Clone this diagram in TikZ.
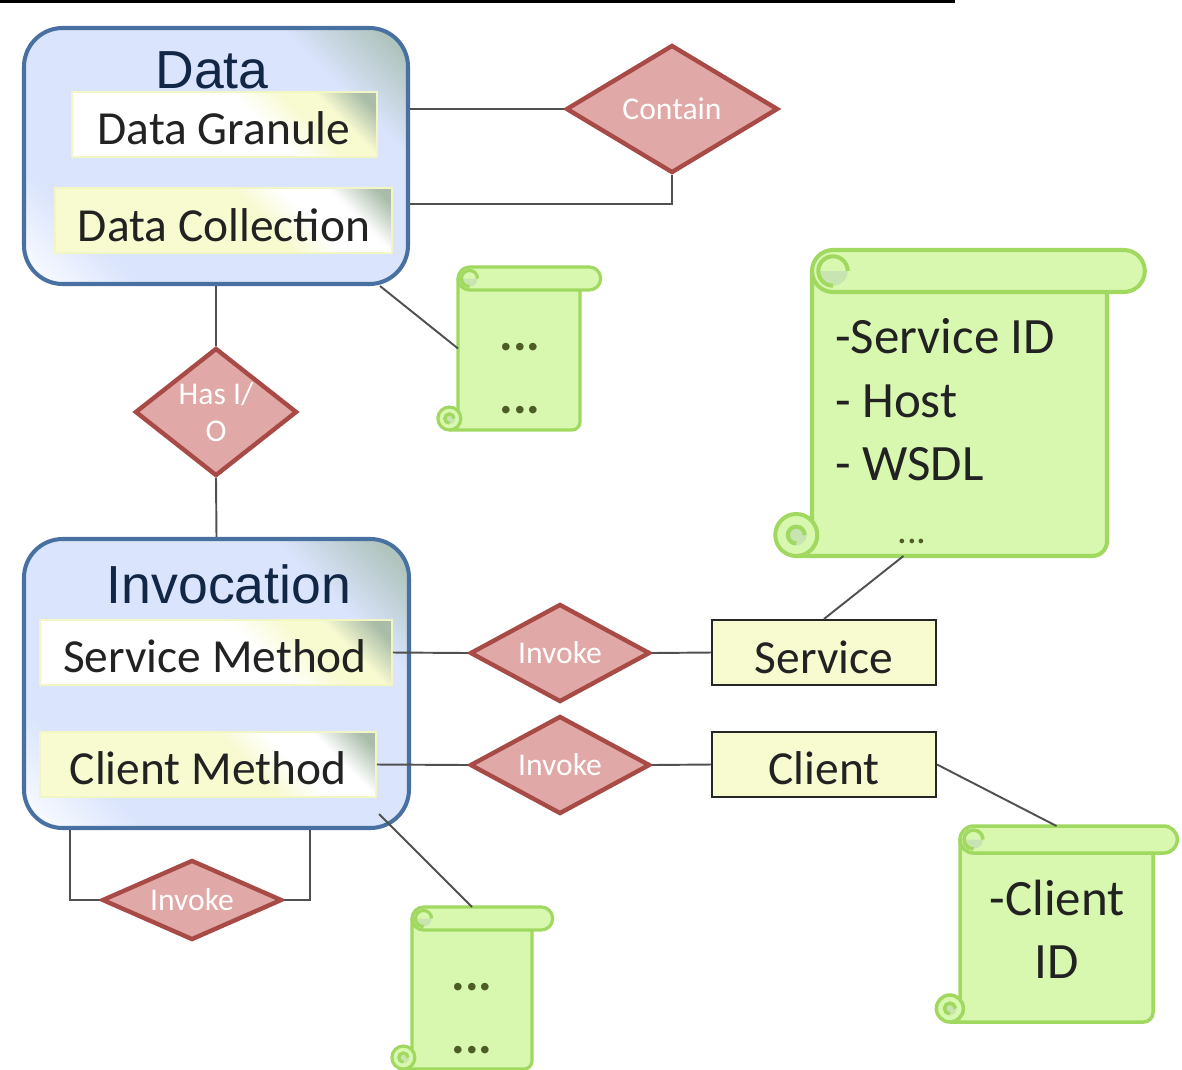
\documentclass[tikz,border=0pt]{standalone}
\usepackage{fontspec}
\setmainfont{Carlito}
\newfontfamily\titlefont{Liberation Sans}
\usetikzlibrary{shapes.geometric,fit,calc}

\definecolor{boxblue}{RGB}{218,228,252}
\definecolor{boxedge}{RGB}{72,112,160}
\definecolor{boxgrey}{RGB}{176,196,190}
\definecolor{titleblue}{RGB}{18,38,70}
\definecolor{paleyellow}{RGB}{248,250,208}
\definecolor{yellowedge}{RGB}{242,246,196}
\definecolor{cornergrey}{RGB}{168,188,168}
\definecolor{relfill}{RGB}{224,168,166}
\definecolor{reledge}{RGB}{168,74,70}
\definecolor{notefill}{RGB}{216,248,176}
\definecolor{noteedge}{RGB}{160,216,96}
\definecolor{curlfill}{RGB}{200,228,176}
\definecolor{linegrey}{RGB}{80,80,80}
\definecolor{dotgreen}{RGB}{78,92,38}
\definecolor{textdark}{RGB}{34,34,34}

% fills running from the bottom left corner (25bp) to the top right corner (75bp)
\pgfdeclarehorizontalshading{groupshade}{100bp}{color(0bp)=(white); color(25bp)=(white); color(34bp)=(boxblue); color(65bp)=(boxblue); color(72.5bp)=(boxgrey); color(100bp)=(boxgrey)}
\pgfdeclarehorizontalshading{whiteyellow}{100bp}{color(0bp)=(white); color(55bp)=(white); color(62bp)=(paleyellow); color(66.5bp)=(paleyellow); color(72.5bp)=(cornergrey); color(100bp)=(cornergrey)}
\pgfdeclarehorizontalshading{yellowwhite}{100bp}{color(0bp)=(paleyellow); color(55bp)=(paleyellow); color(61bp)=(white); color(67bp)=(white); color(73bp)=(cornergrey); color(100bp)=(cornergrey)}

% diagonal shading of the box (#3,#4)--(#5,#6); #1 = clip options, #2 = shading
\newcommand{\diagshade}[6]{%
  \pgfmathsetmacro{\halfside}{(#5-#3+#6-#4)/(2*sqrt(2))}%
  \pgfmathsetmacro{\midx}{(#3+#5)/2}%
  \pgfmathsetmacro{\midy}{(#4+#6)/2}%
  \begin{scope}
    \clip[#1] (#3,#4) rectangle (#5,#6);
    \begin{scope}[transform canvas={rotate around={45:(\midx,\midy)}}]
      \shade[shading=#2] (\midx-\halfside,\midy-\halfside) rectangle (\midx+\halfside,\midy+\halfside);
    \end{scope}
  \end{scope}%
}

\begin{document}
\begin{tikzpicture}[x=0.02cm, y=-0.02cm,
    group/.style={draw=boxedge, line width=2.3pt, rounded corners=22pt, inner sep=0pt},
    grouptitle/.style={anchor=base, text=titleblue, font=\titlefont\fontsize{30.5}{36}\selectfont},
    attr/.style={draw=yellowedge, line width=1.1pt, inner sep=0pt},
    entity/.style={draw=black!85, line width=1.2pt, fill=paleyellow, inner sep=0pt},
    label/.style={anchor=base, text=textdark, font=\fontsize{27}{32}\selectfont},
    relation/.style={diamond, aspect=2, draw=reledge, line width=2.5pt, fill=relfill, inner sep=0pt,
        text=white, font=\fontsize{18}{21}\selectfont},
    link/.style={draw=linegrey, line width=1.1pt},
    note/.style={fill=notefill, draw=noteedge, line join=round},
    notetext/.style={text=textdark, font=\fontsize{29}{36}\selectfont},
    dots/.style={text=dotgreen, font=\bfseries\fontsize{29}{32}\selectfont},
    pics/scroll/.style args={#1/#2/#3}{code={
        % sheet
        \filldraw[note] (0,#3) -- (#1,#3) -- (#1,#2-0.7*#3) arc (0:90:0.7*#3)
            -- (-0.75*#3,#2) -- (-0.75*#3,#2-#3) -- (0,#2-#3) -- cycle;
        % roll on top
        \filldraw[note] (#3,0) -- (#1+0.8*#3,0) arc (-90:90:#3) -- (#3,2*#3) arc (90:270:#3) -- cycle;
        \fill[curlfill] (1.7*#3,#3) arc (0:180:0.7*#3) -- cycle;
        \draw[draw=noteedge] (1.7*#3,#3) arc (0:-270:0.7*#3);
        % curl at the bottom
        \filldraw[note] (-0.75*#3,#2-#3) circle (#3);
        \fill[curlfill] (-0.75*#3,#2-#3) circle (0.5*#3);
        \draw[draw=noteedge] (-0.35*#3,#2-#3) arc (0:-270:0.4*#3);
        \coordinate (-top) at (0.5*#1,0);
        \coordinate (-left) at (0,0.5*#2);
        \coordinate (-foot) at (0.31*#1,#2);
    }}]
    \useasboundingbox (0,0) rectangle (1182,1069);
    \fill[black] (0,0) rectangle (955,3);

    % Data group
    \diagshade{rounded corners=22pt}{groupshade}{24}{28}{408}{284}
    \node[group, fit={(24,28) (408,284)}] (data) {};
    \node[grouptitle] (datatitle) at (212,88) {Data};
    \diagshade{}{whiteyellow}{72}{92}{377}{157}
    \node[attr, fit={(72,92) (377,157)}] (granule) {};
    \node[label] (granuletext) at (224,144) {Data Granule};
    \diagshade{}{yellowwhite}{55}{188}{392}{253}
    \node[attr, fit={(55,188) (392,253)}] (collection) {};
    \node[label] (collectiontext) at (224,241) {Data Collection};

    % Invocation group
    \diagshade{rounded corners=22pt}{groupshade}{24}{539}{409}{828}
    \node[group, fit={(24,539) (409,828)}] (invocation) {};
    \node[grouptitle] (invtitle) at (229,603) {Invocation};
    \diagshade{}{whiteyellow}{40}{620}{392}{685}
    \node[attr, fit={(40,620) (392,685)}] (srvmethod) {};
    \node[label] (srvmethodtext) at (215,672) {Service Method};
    \diagshade{}{yellowwhite}{40}{732}{376}{797}
    \node[attr, fit={(40,732) (376,797)}] (climethod) {};
    \node[label] (climethodtext) at (208,784) {Client Method};

    % relations
    \node[relation, aspect=1.66, minimum width=4.24cm, minimum height=2.56cm] (contain) at (672,109) {Contain};
    \node[relation, aspect=1.27, minimum width=3.24cm, minimum height=2.56cm, align=center] (hasio) at (216,412) {Has I/\\O};
    \node[relation, minimum width=3.6cm, minimum height=1.96cm] (invokesrv) at (560,653) {Invoke};
    \node[relation, minimum width=3.6cm, minimum height=1.96cm] (invokecli) at (560,765) {Invoke};
    \node[relation, aspect=2.25, minimum width=3.6cm, minimum height=1.6cm] (invokeself) at (192,900) {Invoke};

    % entities
    \node[entity, fit={(712,620) (936,685)}] (service) {};
    \node[label] (servicetext) at (824,673) {Service};
    \node[entity, fit={(712,732) (936,797)}] (client) {};
    \node[label] (clienttext) at (824,784) {Client};

    % notes
    \pic[line width=1.8pt] (notedata) at (458,267) {scroll=122/163/11.5};
    \node[dots] (notedataA) at (520,347) {...};
    \node[dots] (notedataB) at (520,410) {...};

    \pic[line width=1.8pt] (noteinv) at (412,907) {scroll=120/162/11.5};
    \node[dots] (noteinvA) at (472,987) {...};
    \node[dots] (noteinvB) at (472,1050) {...};

    \pic[line width=2.3pt] (notesrv) at (812,250) {scroll=295/306/21};
    \node[notetext, anchor=base west] (srvline1) at (829,353) {-Service ID};
    \node[notetext, anchor=base west] (srvline2) at (829,417) {- Host};
    \node[notetext, anchor=base west] (srvline3) at (829,480) {- WSDL};
    \node[text=dotgreen, font=\fontsize{22}{26}\selectfont] (srvdots) at (912,541) {...};

    \pic[line width=2pt] (notecli) at (960,826) {scroll=193/196/13.5};
    \node[notetext, anchor=base] (cliline1) at (1057,915) {-Client};
    \node[notetext, anchor=base] (cliline2) at (1057,978) {ID};

    % connectors
    \draw[link] (data.east |- contain.west) -- (contain.west);
    \draw[link] (data.-14) -| (contain.south);
    \draw[link] ($(data.south east)+(-30,0)$) -- (notedata-left);
    \draw[link] (data.south) -- (hasio.north);
    \draw[link] (hasio.south) -- (invocation.north);
    \draw[link] (srvmethod.east) -- (invokesrv.west);
    \draw[link] (invokesrv.east) -- (service.west);
    \draw[link] (climethod.east) -- (invokecli.west);
    \draw[link] (invokecli.east) -- (client.west);
    \draw[link] (service.north) -- (notesrv-foot);
    \draw[link] (client.east) -- (notecli-top);
    \draw[link] ($(invocation.south east)+(-32,-16)$) -- (noteinv-top);
    \draw[link] ($(invocation.south west)+(48,0)$) |- (invokeself.west);
    \draw[link] ($(invocation.south west)+(288,0)$) |- (invokeself.east);
\end{tikzpicture}
\end{document}
